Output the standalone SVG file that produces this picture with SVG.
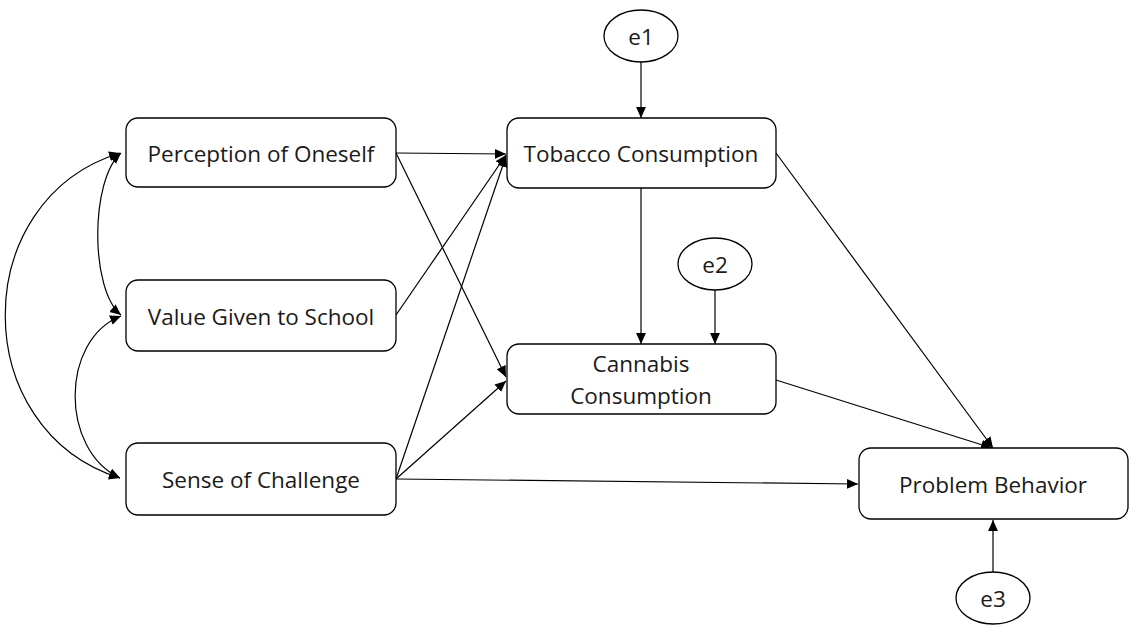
<svg xmlns="http://www.w3.org/2000/svg" width="1136" height="632" viewBox="0 0 1136 632">
<style>
.box{fill:#fff;stroke:#000;stroke-width:1.3}
.lbl{font-family:"Open Sans","Liberation Sans",sans-serif;font-size:22.5px;fill:#1a1a1a;text-anchor:middle;dominant-baseline:central}
.ln{fill:none;stroke:#000;stroke-width:1.2}
</style>
<defs>
<marker id="ah" viewBox="0 0 10 10" refX="10" refY="5" markerWidth="11" markerHeight="11" markerUnits="userSpaceOnUse" orient="auto-start-reverse">
<path d="M0,0.5 L10,5 L0,9.5 Z" fill="#000"/>
</marker>
</defs>
<rect width="1136" height="632" fill="#fff"/>
<g id="connectors">
<path class="ln" d="M121,153 C90,180 90,290 121,315" marker-start="url(#ah)" marker-end="url(#ah)"/>
<path class="ln" d="M121,316 C60,340 60,450 120,478" marker-start="url(#ah)" marker-end="url(#ah)"/>
<path class="ln" d="M120,153 C-33,200 -33,430 120,478" marker-start="url(#ah)" marker-end="url(#ah)"/>
<line class="ln" x1="396" y1="153" x2="506" y2="154" marker-end="url(#ah)"/>
<line class="ln" x1="396" y1="153" x2="506" y2="377" marker-end="url(#ah)"/>
<line class="ln" x1="396" y1="315" x2="506" y2="155" marker-end="url(#ah)"/>
<line class="ln" x1="396" y1="479" x2="506" y2="156" marker-end="url(#ah)"/>
<line class="ln" x1="396" y1="479" x2="506" y2="381" marker-end="url(#ah)"/>
<line class="ln" x1="396" y1="479" x2="858" y2="484" marker-end="url(#ah)"/>
<line class="ln" x1="641" y1="62" x2="641" y2="118" marker-end="url(#ah)"/>
<line class="ln" x1="641" y1="188" x2="641" y2="344" marker-end="url(#ah)"/>
<line class="ln" x1="715" y1="290" x2="715" y2="344" marker-end="url(#ah)"/>
<line class="ln" x1="776" y1="153" x2="993" y2="448" marker-end="url(#ah)"/>
<line class="ln" x1="776" y1="380" x2="992" y2="448" marker-end="url(#ah)"/>
<line class="ln" x1="993" y1="572" x2="993" y2="520" marker-end="url(#ah)"/>
</g>
<g id="perception"><rect class="box" x="126" y="118" width="270" height="69" rx="12"/><text class="lbl" x="261" y="153">Perception of Oneself</text></g>
<g id="value"><rect class="box" x="126" y="280" width="270" height="71" rx="12"/><text class="lbl" x="261" y="316">Value Given to School</text></g>
<g id="sense"><rect class="box" x="126" y="443" width="270" height="72" rx="12"/><text class="lbl" x="261" y="479">Sense of Challenge</text></g>
<g id="tobacco"><rect class="box" x="507" y="118" width="269" height="70" rx="12"/><text class="lbl" x="641" y="153">Tobacco Consumption</text></g>
<g id="cannabis"><rect class="box" x="507" y="344" width="269" height="70" rx="12"/><text class="lbl" x="641" y="363">Cannabis</text><text class="lbl" x="641" y="395">Consumption</text></g>
<g id="problem"><rect class="box" x="859" y="448" width="269" height="71" rx="12"/><text class="lbl" x="993" y="484">Problem Behavior</text></g>
<g id="e1"><ellipse class="box" cx="641" cy="36" rx="37" ry="26"/><text class="lbl" x="641" y="36">e1</text></g>
<g id="e2"><ellipse class="box" cx="715" cy="264" rx="37" ry="26"/><text class="lbl" x="715" y="264">e2</text></g>
<g id="e3"><ellipse class="box" cx="993" cy="598" rx="37" ry="26"/><text class="lbl" x="993" y="598">e3</text></g>
</svg>
